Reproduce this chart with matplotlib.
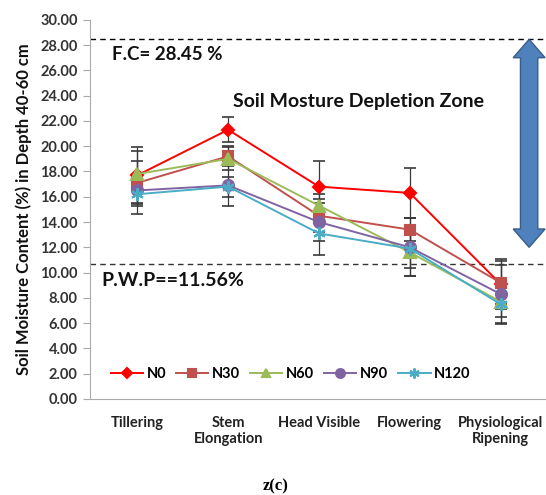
import matplotlib
matplotlib.use("Agg")
import matplotlib.pyplot as plt
from matplotlib.patches import Polygon
from matplotlib.transforms import blended_transform_factory
import numpy as np

# Data
stages = ["Tillering", "Stem\nElongation", "Head Visible", "Flowering", "Physiological\nRipening"]
series_names = ["N0", "N30", "N60", "N90", "N120"]
n0 = [17.7, 21.3, 16.8, 16.3, 9.1]
n30 = [17.1, 19.2, 14.5, 13.4, 9.2]
n60 = [17.8, 19.0, 15.3, 11.6, 7.7]
n90 = [16.5, 16.9, 14.0, 12.0, 8.3]
n120 = [16.2, 16.8, 13.1, 11.9, 7.5]
err_n0 = [2.2, 1.0, 2.0, 2.0, 2.0]
err_n30 = [2.5, 0.8, 1.3, 0.9, 1.7]
err_n60 = [1.0, 0.9, 0.9, 1.9, 1.2]
err_n90 = [1.1, 1.6, 1.5, 2.3, 2.3]
err_n120 = [0.9, 0.8, 1.7, 1.5, 1.6]
fc_level = 28.45
pwp_level = 10.7
arrow_bottom = 12.0

values = [n0, n30, n60, n90, n120]
errors = [err_n0, err_n30, err_n60, err_n90, err_n120]
colors = ["#FF0000", "#C0504D", "#9BBB59", "#8064A2", "#4BACC6"]
markers = ["D", "s", "^", "o", (6, 2, 0)]
msizes = [6, 7, 8, 8, 9]

plt.rcParams['font.family'] = ['Lato', 'DejaVu Sans']

fig = plt.figure(figsize=(5.46, 4.95), dpi=100)
ax = fig.add_axes([0.165, 0.194, 0.835, 0.766])
x = np.arange(len(stages))

# Error bars first so lines sit on top
for vals, errs in zip(values, errors):
    ax.errorbar(x, vals, yerr=errs, fmt='none', ecolor='#3a3a3a', elinewidth=0.9,
                capsize=4, capthick=1.2, zorder=2)

for name, vals, c, m, ms in zip(series_names, values, colors, markers, msizes):
    ax.plot(x, vals, color=c, marker=m, markersize=ms, markeredgewidth=1.5,
            linewidth=1.4, label=name, zorder=3)

ax.axhline(fc_level, color='black', linestyle=(0, (4, 3)), linewidth=1.0, zorder=1)
ax.axhline(pwp_level, color='#333333', linestyle=(0, (4, 3)), linewidth=1.0, zorder=1)

# Depletion zone double arrow (x in axes fraction, y in data)
trans = blended_transform_factory(ax.transAxes, ax.transData)
cx, bw, hw, hl = 0.963, 0.019, 0.035, 1.45
pts = [(cx, fc_level), (cx + hw, fc_level - hl), (cx + bw, fc_level - hl),
       (cx + bw, arrow_bottom + hl), (cx + hw, arrow_bottom + hl), (cx, arrow_bottom),
       (cx - hw, arrow_bottom + hl), (cx - bw, arrow_bottom + hl), (cx - bw, fc_level - hl),
       (cx - hw, fc_level - hl)]
ax.add_patch(Polygon(pts, closed=True, transform=trans, facecolor='#4F81BD',
                     edgecolor='#385D8A', linewidth=1.0, zorder=4, clip_on=False))

ax.text(-0.28, 26.8, "F.C= 28.45 %", fontsize=13.5, fontweight='bold', color='#111111')
ax.text(1.05, 23.1, "Soil Mosture Depletion Zone", fontsize=14, fontweight='bold', color='#111111')
ax.text(-0.4, 8.9, "P.W.P==11.56%", fontsize=14, fontweight='bold', color='#111111')

ax.set_xlim(-0.52, 4.5)
ax.set_ylim(0, 30)
ax.set_yticks(np.arange(0, 30.01, 2))
ax.set_yticklabels([f"{v:.2f}" for v in np.arange(0, 30.01, 2)])
ax.set_xticks(x)
ax.set_xticklabels(stages)
ax.tick_params(axis='x', length=0, pad=12, labelsize=10.5, labelcolor='#222222')
ax.tick_params(axis='y', direction='out', length=5, color='#aaaaaa', labelsize=10.5,
               labelcolor='#333333', pad=4)
for lab in ax.get_xticklabels() + ax.get_yticklabels():
    lab.set_fontweight('bold')

for s in ['top', 'right']:
    ax.spines[s].set_visible(False)
ax.spines['left'].set_color('#aaaaaa')
ax.spines['bottom'].set_color('#aaaaaa')

ax.set_ylabel("Soil Moisture Content (%) in Depth 40-60 cm", fontsize=12, fontweight='bold',
              color='#111111', labelpad=6)

leg = ax.legend(loc='center', bbox_to_anchor=(0.44, 0.066), ncol=5, frameon=False,
                handlelength=2.2, columnspacing=0.7, handletextpad=0.25, markerscale=0.8,
                prop={'weight': 'bold', 'size': 10.5})

fig.text(0.505, 0.002, "z(c)", family='Liberation Serif', fontweight='bold', fontsize=12,
         ha='center', va='bottom')

fig.savefig("out.png", dpi=100)
